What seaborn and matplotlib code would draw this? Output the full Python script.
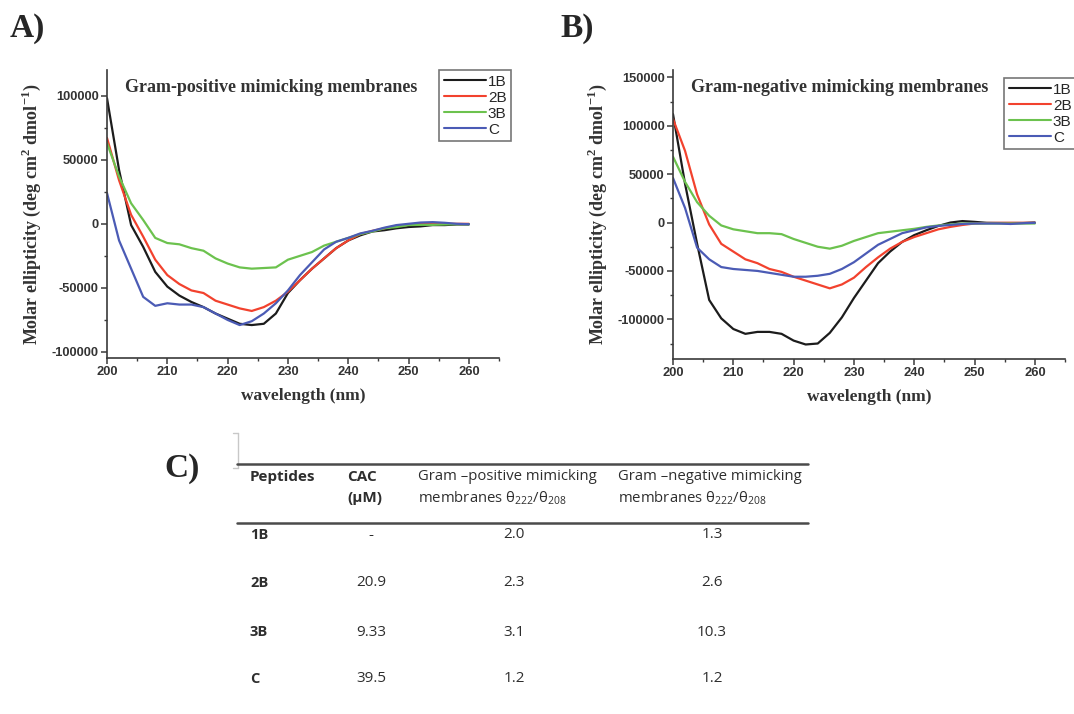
import numpy as np
import pandas as pd
import matplotlib
matplotlib.use('Agg')
import matplotlib.pyplot as plt
from matplotlib.ticker import MultipleLocator
from matplotlib.lines import Line2D
import seaborn as sns

# CD spectra, 200-260 nm every 2 nm
wavelength = np.arange(200, 261, 2)
peptides = ['1B', '2B', '3B', 'C']

pos_1B = [98000, 42000, -1000, -18000, -37500, -49000, -56000, -61000, -65000, -70000, -74000,
          -78000, -79000, -78000, -70000, -54000, -44000, -35000, -27000, -19000, -13000, -9000,
          -6000, -5000, -3500, -2500, -2000, -1000, -1000, -500, -500]
pos_2B = [67000, 34000, 7000, -10000, -28000, -40000, -47000, -52000, -54000, -60000, -63000,
          -66000, -68000, -65000, -60000, -53000, -44000, -35000, -27000, -19000, -13000, -8000,
          -5500, -3500, -1500, -800, 0, 0, 0, 0, 0]
pos_3B = [63000, 37000, 16000, 3000, -11000, -15000, -16000, -19000, -21000, -27000, -31000,
          -34000, -35000, -34500, -34000, -28000, -25000, -22000, -17000, -14000, -11000, -8000,
          -6000, -3500, -2500, -1000, -800, -800, -500, -300, -300]
pos_C = [24000, -13000, -35000, -57000, -64000, -62000, -63000, -63000, -65000, -70000, -75000,
         -79000, -76000, -70000, -62000, -52000, -40000, -30000, -20000, -14000, -11000, -7500,
         -5500, -3000, -1000, 0, 1000, 1300, 800, 0, -300]

neg_1B = [112000, 40000, -22000, -80000, -99000, -110000, -115000, -113000, -113000, -115000, -122000,
          -126000, -125000, -114000, -98000, -78000, -60000, -42000, -30000, -20000, -13000, -8000,
          -3500, 0, 1500, 700, -300, -500, -500, -500, 0]
neg_2B = [107000, 74000, 29000, -2000, -22000, -30000, -38000, -42000, -48000, -51000, -56000,
          -60000, -64000, -68000, -64000, -57000, -46000, -36000, -27000, -20000, -15000, -11000,
          -7000, -4500, -2500, -1000, -500, -300, -300, -300, -300]
neg_3B = [68000, 42000, 21000, 7000, -3000, -7000, -9000, -11000, -11000, -12000, -17000,
          -21000, -25000, -27000, -24000, -19000, -15000, -11000, -9500, -8000, -6500, -4500,
          -3000, -2000, -1000, -1000, -1000, -1000, -1000, -1000, -1000]
neg_C = [46000, 15000, -26000, -38000, -46000, -48000, -49000, -50000, -52000, -54000, -56000,
         -56000, -55000, -53000, -48000, -41000, -32000, -23000, -17000, -11000, -8000, -5000,
         -3500, -2500, -1500, -1000, -1000, -1000, -1500, -700, -300]

# table C
tab_peptides = ['1B', '2B', '3B', 'C']
tab_cac = ['-', '20.9', '9.33', '39.5']
tab_pos_ratio = ['2.0', '2.3', '3.1', '1.2']
tab_neg_ratio = ['1.3', '2.6', '10.3', '1.2']

colors = {'1B': '#1c1c1c', '2B': '#f2422e', '3B': '#6cc24e', 'C': '#4b5bb5'}


def long_form(series):
    frames = []
    for name, vals in zip(peptides, series):
        frames.append(pd.DataFrame({'wavelength': wavelength, 'ellipticity': vals, 'peptide': name}))
    return pd.concat(frames, ignore_index=True)


df_pos = long_form([pos_1B, pos_2B, pos_3B, pos_C])
df_neg = long_form([neg_1B, neg_2B, neg_3B, neg_C])

sns.set_style('ticks')
plt.rcParams['font.family'] = ['Liberation Sans', 'DejaVu Sans']
plt.rcParams['axes.unicode_minus'] = False
plt.rcParams['mathtext.fontset'] = 'custom'
plt.rcParams['mathtext.rm'] = 'Liberation Serif'
plt.rcParams['mathtext.bf'] = 'Liberation Serif:bold'
plt.rcParams['mathtext.sf'] = 'Open Sans'

W, H = 1074, 714
fig = plt.figure(figsize=(W / 100, H / 100), dpi=100)


def fx(x):
    return x / W


def fy(y):
    return 1 - y / H


serif = ['Liberation Serif', 'DejaVu Serif']
axis_color = '#3a3a3a'


def draw_panel(box, df, ylim, title, legend_xy):
    left, top, right, bottom = box
    ax = fig.add_axes([fx(left), fy(bottom), fx(right - left), (bottom - top) / H])
    sns.lineplot(data=df, x='wavelength', y='ellipticity', hue='peptide',
                 palette=colors, linewidth=1.6, ax=ax, legend=False)
    ax.set_xlim(200, 265)
    ax.set_ylim(*ylim)
    ax.xaxis.set_major_locator(MultipleLocator(10))
    ax.xaxis.set_minor_locator(MultipleLocator(5))
    ax.yaxis.set_major_locator(MultipleLocator(50000))
    ax.yaxis.set_minor_locator(MultipleLocator(25000))
    for s in ['top', 'right']:
        ax.spines[s].set_visible(False)
    for s in ['left', 'bottom']:
        ax.spines[s].set_color(axis_color)
        ax.spines[s].set_linewidth(1.2)
    ax.tick_params(which='major', direction='out', length=4, width=1.1, color=axis_color,
                   labelsize=9.3, pad=2)
    ax.tick_params(which='minor', direction='out', length=2.5, width=1.0, color=axis_color)
    for lab in ax.get_xticklabels() + ax.get_yticklabels():
        lab.set_fontweight('bold')
        lab.set_color('#333333')
    ax.set_xlabel('wavelength (nm)', family=serif, fontweight='bold', fontsize=12.5,
                  color='#333333', labelpad=7)
    ax.set_ylabel(r'Molar ellipticity (deg cm$^\mathbf{2}$ dmol$^\mathbf{-1}$)', family=serif,
                  fontweight='bold', fontsize=13, color='#333333', labelpad=6)
    ax.text(0.045, 0.94, title, transform=ax.transAxes, family=serif, fontweight='bold',
            fontsize=13, color='#333333', ha='left', va='center')
    handles = [Line2D([], [], color=colors[p], lw=1.5) for p in peptides]
    leg = fig.legend(handles, peptides, loc='upper left',
                     bbox_to_anchor=(fx(legend_xy[0]), fy(legend_xy[1])),
                     frameon=True, fancybox=False, fontsize=11, handlelength=2.8,
                     handletextpad=0.1, labelspacing=0.13, borderpad=0.3, borderaxespad=0)
    leg.get_frame().set_edgecolor('#555555')
    leg.get_frame().set_linewidth(1.2)
    return ax


axA = draw_panel((107, 70, 499, 358), df_pos, (-104700, 120000),
                 'Gram-positive mimicking membranes', (439, 70))
axB = draw_panel((673, 70, 1065, 359), df_neg, (-141000, 157600),
                 'Gram-negative mimicking membranes', (1004, 78))

# panel letters
fig.text(fx(10), fy(29), 'A)', family=serif, fontweight='bold', fontsize=24, va='center', ha='left')
fig.text(fx(560), fy(29), 'B)', family=serif, fontweight='bold', fontsize=24, va='center', ha='left')
fig.text(fx(164), fy(468), 'C)', family=serif, fontweight='bold', fontsize=24, va='center', ha='left')

# small bracket left of the table
fig.add_artist(Line2D([fx(238), fx(238)], [fy(433), fy(468)], color='#c8c8c8', lw=1))
fig.add_artist(Line2D([fx(233), fx(238)], [fy(433), fy(433)], color='#c8c8c8', lw=1))
fig.add_artist(Line2D([fx(233), fx(238)], [fy(468), fy(468)], color='#c8c8c8', lw=1))

# table C
sans = ['Open Sans', 'DejaVu Sans']
tcol = '#2e2e2e'
fs = 11
fig.add_artist(Line2D([fx(237), fx(808)], [fy(464), fy(464)], color='#4a4a4a', lw=1.8))
fig.add_artist(Line2D([fx(237), fx(808)], [fy(523), fy(523)], color='#4a4a4a', lw=1.8))

fig.text(fx(250), fy(477), 'Peptides', family=sans, fontweight='bold', fontsize=fs, color=tcol, va='center')
fig.text(fx(347), fy(477), 'CAC', family=sans, fontweight='bold', fontsize=fs, color=tcol, va='center')
fig.text(fx(347), fy(498), '(\u03bcM)', family=sans, fontweight='bold', fontsize=fs, color=tcol, va='center')
fig.text(fx(418), fy(477), 'Gram \u2013positive mimicking', family=sans, fontsize=fs - 0.3,
         color=tcol, va='center')
fig.text(fx(418), fy(498), r'membranes $\mathsf{\theta_{222}/\theta_{208}}$', family=sans,
         fontsize=fs - 0.3, color=tcol, va='center')
fig.text(fx(618), fy(477), 'Gram \u2013negative mimicking', family=sans, fontsize=fs - 0.3,
         color=tcol, va='center')
fig.text(fx(618), fy(498), r'membranes $\mathsf{\theta_{222}/\theta_{208}}$', family=sans,
         fontsize=fs - 0.3, color=tcol, va='center')

row_y = [535, 583, 632, 679]
for y, p, cac, rp, rn in zip(row_y, tab_peptides, tab_cac, tab_pos_ratio, tab_neg_ratio):
    fig.text(fx(250), fy(y), p, family=sans, fontweight='bold', fontsize=fs - 0.5, color=tcol, va='center')
    fig.text(fx(371), fy(y), cac, family=sans, fontsize=fs, color=tcol, va='center', ha='center')
    fig.text(fx(514), fy(y), rp, family=sans, fontsize=fs, color=tcol, va='center', ha='center')
    fig.text(fx(712), fy(y), rn, family=sans, fontsize=fs, color=tcol, va='center', ha='center')

fig.savefig('out.png', dpi=100)
